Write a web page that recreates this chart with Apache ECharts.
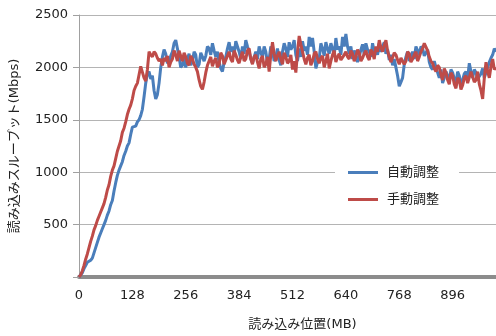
<!DOCTYPE html>
<html>
<head>
<meta charset="utf-8">
<script src="https://cdn.jsdelivr.net/npm/echarts@6/dist/echarts.min.js"></script>
<style>html,body{margin:0;padding:0;background:#fff}#c{width:496px;height:336px}</style>
</head>
<body>
<div id="c"></div>
<script>
// X positions (MB), every 4 MB from 0 to 1000
const positions = [];
for (let i = 0; i <= 250; i++) positions.push(i * 4);

const xTicks = [0, 128, 256, 384, 512, 640, 768, 896];
const yTicks = [500, 1000, 1500, 2000, 2500];
const seriesNames = ['自動調整', '手動調整'];

// 自動調整 (Mbps)
const autoTuned = [
  0, 15, 40, 80, 110, 140, 150, 160, 180, 230,
  280, 330, 380, 420, 460, 500, 540, 590, 630, 690,
  730, 820, 900, 970, 1020, 1060, 1100, 1160, 1200, 1250,
  1280, 1360, 1430, 1420, 1440, 1480, 1500, 1540, 1600, 1720,
  1850, 1940, 1960, 1890, 1920, 1780, 1700, 1740, 1850, 2000,
  2100,
  2170, 2130, 2040, 2060, 2110, 2150, 2230, 2260, 2180, 2100,
  2000, 2020, 2090, 2000, 2080, 2130, 2020, 2060, 2150, 2120,
  2000, 2030, 2140, 2100, 2060, 2110, 2200, 2180, 2120, 2230,
  2160, 2100, 2150, 2050, 1990, 1960, 2050, 2100, 2180, 2240,
  2150, 2200, 2120, 2250, 2200, 2150, 2080, 2200, 2130, 2260,
  2200, 2150, 2080, 2040, 2100, 2150, 2080, 2200, 2140, 2100,
  2200, 2150, 2040, 2080, 2200, 2160, 2060, 2100, 2180, 2070,
  2020, 2150, 2230, 2180, 2100, 2240, 2170, 2200, 2260, 2120,
  2060, 2180, 2100, 2250, 2160, 2200, 2120, 2290, 2200, 2280,
  2150, 1990, 2050, 2080, 2230, 2180, 2110, 2240, 2180, 2130,
  2230, 2180, 2110, 2280, 2170, 2200, 2120, 2290, 2200, 2320,
  2200, 2130, 2200, 2080, 2160, 2120, 2050, 2100, 2170, 2220,
  2120, 2230, 2170, 2150, 2100, 2230, 2150, 2180, 2120, 2230,
  2150, 2200, 2240, 2130, 2170, 2070, 2120, 2020, 2080, 2000,
  1920, 1820, 1860, 1900, 2030, 2100, 2150, 2060, 2110, 2150,
  2080, 2200, 2160, 2120, 2200, 2180, 2110, 2100, 2170, 2050,
  2000, 1980, 2060, 2000, 1950, 1900, 1980, 1850, 1900, 1960,
  1920, 1880, 1980, 1950, 1890, 1850, 1960, 1920, 1830, 1880,
  1940, 1960, 1900, 2040, 1960, 1900, 1980, 1950, 1890, 1880,
  1940, 1990, 1900, 1950, 2000, 2050, 2090, 2120, 2180, 2150
];

// 手動調整 (Mbps)
const manualTuned = [
  0, 20, 60, 110, 170, 220, 280, 340, 390, 450,
  490, 540, 580, 620, 660, 700, 760, 830, 880, 960,
  1020, 1060, 1130, 1200, 1250, 1300, 1380, 1420, 1480, 1550,
  1600, 1640, 1700, 1780, 1820, 1850, 1930, 2010, 2000, 1900,
  1870, 1980, 2150, 2120, 2100, 2150, 2130, 2090, 2060, 2080,
  2020,
  2090, 2060, 2110, 2000, 2050, 2080, 2160, 2120, 2060, 2160,
  2110, 2060, 2140, 2100, 2040, 2020, 2110, 2080, 2030, 2000,
  1960, 1880, 1820, 1790, 1860, 1950, 2020, 2060, 2100, 2010,
  2060, 2090, 2000, 2030, 2140, 2110, 2030, 2040, 2110, 2150,
  2080, 2050, 2160, 2120, 2070, 2040, 2100, 2150, 2060, 2080,
  2160, 2180, 2080, 2030, 2100, 2120, 2050, 1990, 2080, 2110,
  2000, 2030, 2100, 1960, 2120, 2240, 2130, 2060, 2110, 2150,
  2080, 2030, 2140, 2100, 2040, 2060, 2120, 1980, 2060, 1950,
  2140, 2300, 2220, 2150, 2080, 2030, 2090, 2120, 2020, 2060,
  2130, 2150, 2080, 2040, 2090, 2110, 2000, 2060, 2130, 1990,
  2060, 2120, 2160, 2050, 2100, 2130, 2070, 2080, 2120, 2150,
  2100, 2080, 2160, 2130, 2060, 2100, 2170, 2140, 2060, 2090,
  2130, 2160, 2100, 2070, 2170, 2140, 2080, 2200, 2150, 2260,
  2190, 2150, 2210, 2260, 2160, 2100, 2050, 2060, 2140, 2120,
  2070, 2030, 2090, 2100, 2030, 2060, 2150, 2130, 2050, 2080,
  2120, 2150, 2060, 2100, 2150, 2180, 2230, 2230, 2160, 2100,
  2060, 2040, 1990, 1960, 2020, 2000, 1930, 1880, 1990, 1950,
  1880, 1840, 1950, 1920, 1840, 1800, 1900, 1880, 1790, 1830,
  1900, 1920, 1850, 1860, 1960, 1950, 1860, 1880, 1960, 1840,
  1780, 1700, 1900, 2050, 1960, 1900, 2010, 2080, 1980, 2000
];

const toPairs = (vals) => vals.map((v, i) => [positions[i], v]);
const font = "'DejaVu Sans', 'Noto Sans CJK JP', sans-serif";

const chart = echarts.init(document.getElementById('c'));
chart.setOption({
  animation: false,
  backgroundColor: '#fff',
  textStyle: { fontFamily: font },
  grid: { left: 78, right: 0, top: 15, bottom: 59 },
  legend: {
    orient: 'vertical',
    left: 335, top: 154,
    padding: [12, 20, 12, 13],
    backgroundColor: '#fff',
    itemWidth: 30, itemHeight: 3, itemGap: 14,
    icon: 'rect',
    data: seriesNames,
    textStyle: { fontSize: 13, color: '#222', fontFamily: font, padding: [0, 0, 0, 4] }
  },
  xAxis: {
    type: 'value', min: 0, max: 1000, interval: 128,
    name: '読み込み位置(MB)', nameLocation: 'middle', nameGap: 41,
    nameTextStyle: { fontSize: 13, color: '#222', fontFamily: font, padding: [0, 0, 0, 30] },
    axisLine: { show: true, lineStyle: { color: '#8c8c8c', width: 4 } },
    axisTick: { show: false },
    splitLine: { show: false },
    axisLabel: {
      fontSize: 13, color: '#222', margin: 12, showMaxLabel: false,
      formatter: (v) => xTicks.includes(v) ? String(v) : ''
    }
  },
  yAxis: {
    type: 'value', min: 0, max: 2500, interval: 500,
    name: '読み込みスループット(Mbps)', nameLocation: 'middle', nameGap: 58,
    nameTextStyle: { fontSize: 13, color: '#222', fontFamily: font },
    axisLine: { show: true, lineStyle: { color: '#a0a0a0', width: 1 } },
    axisTick: { show: true, length: 6, lineStyle: { color: '#a0a0a0' } },
    splitLine: { show: true, lineStyle: { color: '#b4b4b4', width: 1 } },
    axisLabel: {
      fontSize: 13, color: '#222', margin: 11,
      formatter: (v) => yTicks.includes(v) ? String(v) : ''
    }
  },
  series: [
    {
      name: seriesNames[0], type: 'line', data: toPairs(autoTuned),
      showSymbol: false, symbol: 'none',
      lineStyle: { color: '#4a7ebb', width: 3 }, itemStyle: { color: '#4a7ebb' }
    },
    {
      name: seriesNames[1], type: 'line', data: toPairs(manualTuned),
      showSymbol: false, symbol: 'none',
      lineStyle: { color: '#be4b48', width: 3 }, itemStyle: { color: '#be4b48' }
    }
  ]
});
</script>
</body>
</html>
